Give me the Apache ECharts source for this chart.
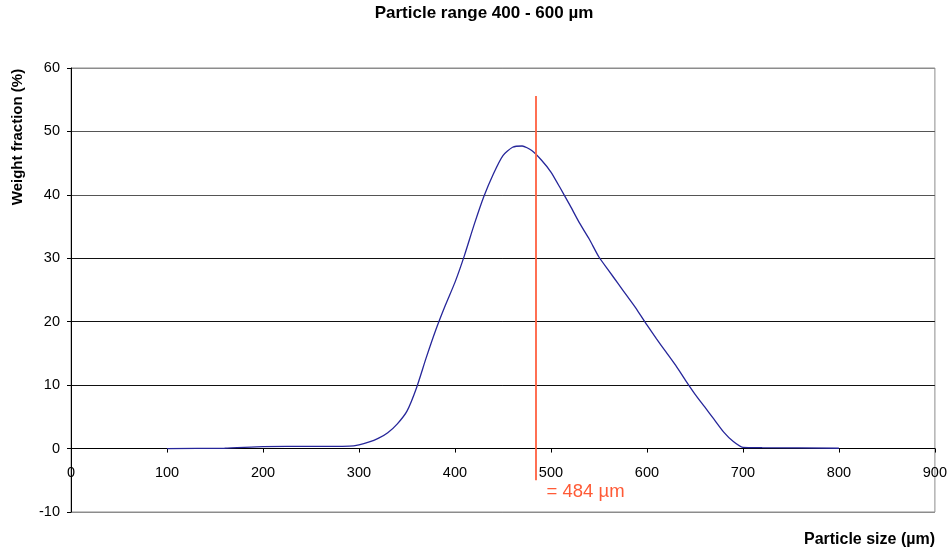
<!DOCTYPE html>
<html>
<head>
<meta charset="utf-8">
<script src="https://cdn.jsdelivr.net/npm/echarts@6/dist/echarts.min.js"></script>
<style>
  html, body { margin: 0; padding: 0; background: #fff; }
  #chart { width: 950px; height: 554px; }
</style>
</head>
<body>
<div id="chart"></div>
<script>
// Particle size distribution (weight fraction per size class)
const particleSizes = [100, 160, 200, 250, 290, 300, 310, 320, 330, 340, 350, 360, 370, 380, 390,
  400, 410, 420, 430, 440, 450, 460, 470, 480, 490, 500, 510, 520, 530, 540, 550,
  560, 570, 580, 590, 600, 610, 620, 630, 640, 650, 660, 670, 680, 690, 700, 720, 800];
const weightFractions = [0, 0.05, 0.3, 0.35, 0.4, 0.6, 1.0, 1.6, 2.5, 3.9, 5.9, 9.6, 14.3, 18.7, 22.6,
  26.2, 30.5, 35.3, 39.7, 43.3, 46.2, 47.5, 47.7, 47.0, 45.5, 43.6, 41.0, 38.3, 35.5, 33.0, 30.2,
  28.1, 26.0, 23.9, 21.8, 19.5, 17.3, 15.2, 13.1, 10.8, 8.6, 6.6, 4.6, 2.6, 1.1, 0.2, 0.15, 0.05];

// Median particle size and vertical extent of its marker
const medianSize = 484;
const medianLineRange = [-5, 55.6];

const xTicks = [0, 900, 100];     // min, max, interval
const yTicks = [-10, 60, 10];

const FONT = '"Liberation Sans", Arial, sans-serif';

const chart = echarts.init(document.getElementById('chart'), null, { renderer: 'canvas' });

const distribution = particleSizes.map((s, i) => [s, weightFractions[i]]);

chart.setOption({
  animation: false,
  backgroundColor: '#ffffff',
  title: {
    text: 'Particle range 400 - 600 µm',
    left: 479,
    top: 0,
    textAlign: 'center',
    textStyle: { fontFamily: FONT, fontSize: 17, fontWeight: 'bold', color: '#000' }
  },
  grid: {
    left: 71, right: 15, top: 68, bottom: 42,
    show: true, borderColor: '#8c8c8c', borderWidth: 1, backgroundColor: 'transparent'
  },
  xAxis: {
    type: 'value',
    min: xTicks[0], max: xTicks[1], interval: xTicks[2],
    axisLine: { show: true, onZero: true, lineStyle: { color: '#000', width: 1 } },
    axisTick: { show: true, inside: false, length: 4, lineStyle: { color: '#000' } },
    // labels sit just under the zero line rather than at the bottom edge
    axisLabel: { color: '#000', fontFamily: FONT, fontSize: 14.5, margin: -47 },
    splitLine: { show: false }
  },
  yAxis: {
    type: 'value',
    min: yTicks[0], max: yTicks[1], interval: yTicks[2],
    axisLine: { show: true, lineStyle: { color: '#000', width: 1 } },
    axisTick: { show: true, inside: false, length: 4, lineStyle: { color: '#000' } },
    axisLabel: { color: '#000', fontFamily: FONT, fontSize: 14.5, margin: 11 },
    splitLine: {
      show: true,
      lineStyle: {
        width: 1,
        color: ['#8c8c8c', '#000', '#111', '#111', '#111', '#555', '#555', '#8c8c8c']
      }
    }
  },
  graphic: [
    {
      type: 'text',
      x: 18, y: 137,
      rotation: Math.PI / 2,
      style: {
        text: 'Weight fraction (%)',
        font: 'bold 15px ' + FONT,
        fill: '#000',
        align: 'center',
        verticalAlign: 'middle'
      }
    },
    {
      type: 'text',
      right: 15, top: 532,
      style: {
        text: 'Particle size (µm)',
        font: 'bold 16px ' + FONT,
        fill: '#000'
      }
    }
  ],
  series: [
    {
      type: 'line',
      data: distribution,
      symbol: 'none',
      smooth: 0.2,
      lineStyle: { color: '#26269a', width: 1.3 },
      z: 3
    },
    {
      type: 'line',
      data: [],
      markLine: {
        silent: true,
        symbol: 'none',
        animation: false,
        lineStyle: { color: '#ff6040', width: 1.8, type: 'solid' },
        label: {
          show: true,
          position: 'end',
          formatter: '= ' + medianSize + ' µm',
          color: '#ff5a36',
          fontFamily: FONT,
          fontSize: 18.5,
          offset: [50, -3]
        },
        data: [[
          { coord: [medianSize, medianLineRange[1]] },
          { coord: [medianSize, medianLineRange[0]] }
        ]]
      },
      z: 4
    }
  ]
});
</script>
</body>
</html>
